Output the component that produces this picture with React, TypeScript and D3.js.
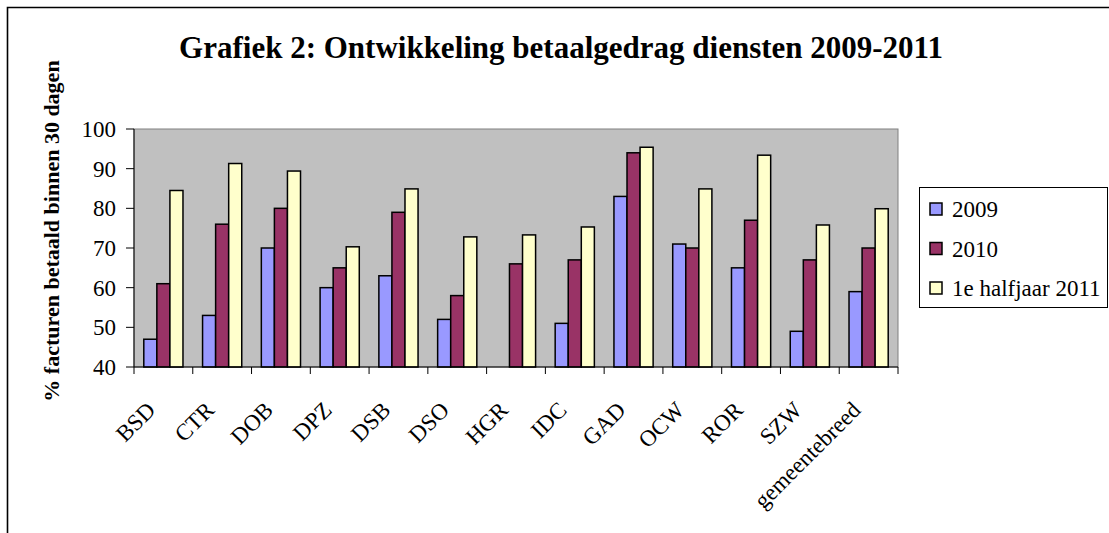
import React from "react";
import * as d3 from "d3";

const categories = ["BSD", "CTR", "DOB", "DPZ", "DSB", "DSO", "HGR", "IDC", "GAD", "OCW", "ROR", "SZW", "gemeentebreed"];
const seriesNames = ["2009", "2010", "1e halfjaar 2011"];
const values2009 = [47, 53, 70, 60, 63, 52, null, 51, 83, 71, 65, 49, 59];
const values2010 = [61, 76, 80, 65, 79, 58, 66, 67, 94, 70, 77, 67, 70];
const values2011 = [84.5, 91.3, 89.4, 70.3, 84.9, 72.8, 73.3, 75.3, 95.4, 84.9, 93.4, 75.8, 79.9];
const colors = ["#9999FF", "#993366", "#FFFFCC"];
const yTicks = [40, 50, 60, 70, 80, 90, 100];

const W = 1109;
const H = 533;
const plot = { left: 134, right: 898, top: 129, bottom: 367 };
const font = "'Liberation Serif', 'Times New Roman', serif";

const App = () => {
  const series = [values2009, values2010, values2011];

  const x0 = d3.scaleBand().domain(categories).range([plot.left, plot.right]).paddingInner(0).paddingOuter(0);
  const x1 = d3
    .scaleBand()
    .domain(seriesNames)
    .range([0, x0.bandwidth()])
    .paddingInner(0)
    .paddingOuter(0.75); // excel gap width 150
  const y = d3.scaleLinear().domain([40, 100]).range([plot.bottom, plot.top]);

  const boundaries = d3.range(categories.length + 1).map((i) => plot.left + i * x0.step());

  return (
    <svg width={W} height={H} style={{ position: "absolute", left: 0, top: 0, fontFamily: font }}>
      <rect width={W} height={H} fill="#fff" />
      {/* outer frame, cut off at right and bottom */}
      <path d={`M7.5,${H + 2} V7.5 H${W + 2}`} fill="none" stroke="#000" strokeWidth={1.6} />

      <text x={561} y={58} textAnchor="middle" fontSize={31} fontWeight="bold">
        Grafiek 2: Ontwikkeling betaalgedrag diensten 2009-2011
      </text>

      <text
        transform={`translate(59,${231}) rotate(-90)`}
        textAnchor="middle"
        fontSize={22}
        fontWeight="bold"
      >
        % facturen betaald binnen 30 dagen
      </text>

      {/* plot area */}
      <rect
        x={plot.left}
        y={plot.top}
        width={plot.right - plot.left}
        height={plot.bottom - plot.top}
        fill="#C0C0C0"
        stroke="#808080"
        strokeWidth={1}
      />

      {categories.map((c, ci) => (
        <g key={c} transform={`translate(${x0(c)},0)`}>
          {series.map((vals, si) => {
            const v = vals[ci];
            if (v == null) return null;
            return (
              <rect
                key={si}
                x={x1(seriesNames[si])}
                y={y(v)}
                width={x1.bandwidth()}
                height={y(40) - y(v)}
                fill={colors[si]}
                stroke="#000"
                strokeWidth={1.5}
              />
            );
          })}
        </g>
      ))}

      {/* y axis */}
      <line x1={plot.left} x2={plot.left} y1={plot.top} y2={plot.bottom} stroke="#000" strokeWidth={1} />
      {yTicks.map((t) => (
        <g key={t}>
          <line x1={plot.left - 8} x2={plot.left} y1={y(t)} y2={y(t)} stroke="#000" />
          <text x={plot.left - 18} y={y(t)} dy="0.35em" textAnchor="end" fontSize={23}>
            {t}
          </text>
        </g>
      ))}

      {/* x axis */}
      <line x1={plot.left} x2={plot.right} y1={plot.bottom} y2={plot.bottom} stroke="#000" strokeWidth={1} />
      {boundaries.map((b, i) => (
        <line key={i} x1={b} x2={b} y1={plot.bottom} y2={plot.bottom + 7} stroke="#000" />
      ))}
      {categories.map((c) => {
        const cx = (x0(c) as number) + x0.bandwidth() / 2 - 18;
        return (
          <text
            key={c}
            transform={`translate(${cx},${plot.bottom + 33}) rotate(-45)`}
            textAnchor="end"
            dy="0.7em"
            fontSize={23}
          >
            {c}
          </text>
        );
      })}

      {/* legend */}
      <rect x={919.5} y={187.5} width={188} height={120} fill="#fff" stroke="#000" strokeWidth={1} />
      {seriesNames.map((s, i) => {
        const cy = 209 + i * 39.5;
        return (
          <g key={s}>
            <rect x={930} y={cy - 6} width={12} height={12} fill={colors[i]} stroke="#000" strokeWidth={1.5} />
            <text x={952} y={cy} dy="0.35em" fontSize={23}>
              {s}
            </text>
          </g>
        );
      })}
    </svg>
  );
};

export default App;
